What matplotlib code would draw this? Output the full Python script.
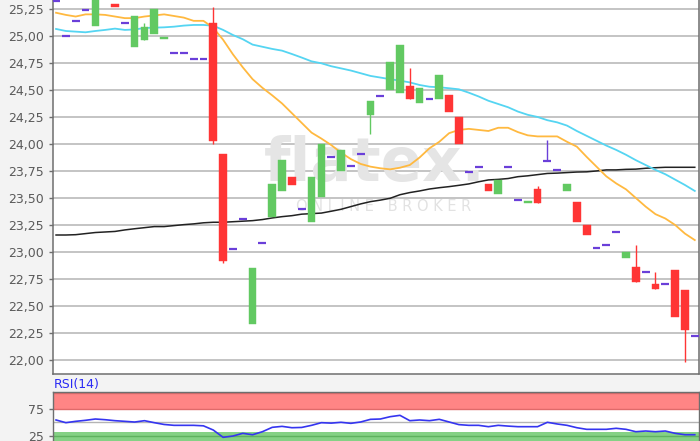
import matplotlib
matplotlib.use("Agg")
import matplotlib.pyplot as plt
import numpy as np
from matplotlib.ticker import FuncFormatter, FixedLocator

# ---------------- data ----------------
opens = [25.32, 25.00, 25.14, 25.24, 25.09, 25.38, 25.30, 25.12, 24.895, 24.96,
         25.02, 24.97, 24.845, 24.845, 24.79, 24.79, 25.12, 23.91, 23.03, 23.305,
         22.33, 23.086, 23.32, 23.56, 23.69, 23.40, 23.275, 23.51, 23.88, 23.75,
         23.80, 23.905, 24.27, 24.445, 24.50, 24.475, 24.54, 24.38, 24.42, 24.42,
         24.45, 24.25, 23.74, 23.79, 23.63, 23.54, 23.79, 23.485, 23.45, 23.58,
         23.84, 23.756, 23.565, 23.46, 23.25, 23.04, 23.065, 23.185, 22.94, 22.86,
         22.81, 22.70, 22.70, 22.83, 22.645, 22.22]
highs = [25.32, 25.00, 25.14, 25.24, 25.40, 25.38, 25.30, 25.12, 25.185, 25.12,
         25.25, 24.99, 24.845, 24.845, 24.79, 24.79, 25.27, 23.91, 23.03, 23.305,
         22.85, 23.086, 23.63, 23.85, 23.69, 23.40, 23.69, 24.00, 23.88, 23.94,
         23.80, 23.905, 24.40, 24.445, 24.76, 24.92, 24.70, 24.52, 24.42, 24.64,
         24.45, 24.25, 23.74, 23.79, 23.63, 23.667, 23.79, 23.485, 23.47, 23.61,
         24.04, 23.756, 23.633, 23.46, 23.25, 23.04, 23.065, 23.185, 23.00, 23.065,
         22.81, 22.815, 22.70, 22.83, 22.645, 22.22]
lows = [25.32, 25.00, 25.14, 25.24, 25.09, 25.38, 25.27, 25.12, 24.895, 24.96,
        25.02, 24.97, 24.845, 24.845, 24.79, 24.79, 24.00, 22.90, 23.03, 23.305,
        22.33, 23.086, 23.32, 23.56, 23.62, 23.40, 23.275, 23.51, 23.88, 23.75,
        23.80, 23.905, 24.09, 24.445, 24.50, 24.475, 24.42, 24.38, 24.42, 24.42,
        24.30, 24.00, 23.74, 23.79, 23.565, 23.54, 23.79, 23.485, 23.45, 23.455,
        23.84, 23.756, 23.565, 23.275, 23.155, 23.04, 23.065, 23.185, 22.94, 22.72,
        22.81, 22.66, 22.70, 22.40, 21.98, 22.22]
closes = [25.32, 25.00, 25.14, 25.24, 25.40, 25.38, 25.27, 25.12, 25.185, 25.08,
          25.25, 24.99, 24.845, 24.845, 24.79, 24.79, 24.03, 22.92, 23.03, 23.305,
          22.85, 23.086, 23.63, 23.85, 23.62, 23.40, 23.69, 24.00, 23.88, 23.94,
          23.80, 23.905, 24.40, 24.445, 24.76, 24.92, 24.42, 24.52, 24.42, 24.64,
          24.30, 24.00, 23.74, 23.79, 23.565, 23.667, 23.79, 23.485, 23.47, 23.455,
          23.84, 23.756, 23.633, 23.275, 23.155, 23.04, 23.065, 23.185, 23.00, 22.72,
          22.81, 22.66, 22.70, 22.40, 22.28, 22.22]

ma_orange = [25.215, 25.195, 25.18, 25.20, 25.20, 25.195, 25.18, 25.165, 25.165, 25.18,
             25.19, 25.20, 25.185, 25.17, 25.14, 25.14, 25.075, 24.965, 24.83, 24.71,
             24.60, 24.52, 24.45, 24.375, 24.285, 24.195, 24.105, 24.05, 23.99, 23.92,
             23.86, 23.815, 23.79, 23.775, 23.765, 23.78, 23.805, 23.875, 23.96, 24.02,
             24.10, 24.13, 24.14, 24.13, 24.12, 24.15, 24.15, 24.11, 24.08, 24.07,
             24.07, 24.07, 24.02, 23.975, 23.88, 23.79, 23.70, 23.635, 23.58, 23.50,
             23.42, 23.35, 23.31, 23.25, 23.17, 23.11]
ma_cyan = [25.065, 25.046, 25.04, 25.034, 25.046, 25.056, 25.068, 25.056, 25.06, 25.074,
           25.077, 25.08, 25.086, 25.096, 25.102, 25.102, 25.095, 25.056, 25.009, 24.97,
           24.92, 24.90, 24.88, 24.864, 24.833, 24.80, 24.765, 24.747, 24.72, 24.70,
           24.68, 24.655, 24.63, 24.615, 24.60, 24.586, 24.57, 24.546, 24.53, 24.525,
           24.516, 24.506, 24.475, 24.44, 24.40, 24.37, 24.34, 24.30, 24.27, 24.25,
           24.22, 24.20, 24.17, 24.12, 24.075, 24.03, 23.985, 23.945, 23.90, 23.85,
           23.805, 23.76, 23.72, 23.67, 23.62, 23.565]
ma_black = [23.157, 23.157, 23.16, 23.17, 23.18, 23.185, 23.19, 23.204, 23.215, 23.225,
            23.235, 23.235, 23.244, 23.253, 23.26, 23.27, 23.275, 23.275, 23.28, 23.285,
            23.29, 23.30, 23.315, 23.327, 23.336, 23.35, 23.355, 23.36, 23.377, 23.395,
            23.42, 23.445, 23.466, 23.48, 23.497, 23.53, 23.55, 23.565, 23.583, 23.595,
            23.605, 23.617, 23.63, 23.65, 23.667, 23.672, 23.68, 23.697, 23.705, 23.716,
            23.727, 23.73, 23.735, 23.74, 23.742, 23.75, 23.76, 23.76, 23.765, 23.767,
            23.775, 23.78, 23.784, 23.784, 23.784, 23.784]
rsi = [54.3, 49.3, 51.8, 53.7, 56.1, 54.8, 53.0, 51.8, 50.5, 53.0,
       49.3, 46.0, 44.4, 44.4, 44.4, 43.5, 35.7, 22.2, 24.6, 29.6,
       27.0, 32.6, 40.7, 42.5, 40.0, 40.5, 44.4, 49.3, 48.5, 50.0,
       48.1, 50.6, 55.5, 56.1, 60.4, 62.9, 53.0, 54.3, 53.0, 55.5,
       50.6, 45.7, 44.4, 44.4, 41.9, 44.4, 43.0, 41.9, 41.9, 41.9,
       50.0, 46.9, 44.4, 40.0, 37.0, 37.0, 37.0, 38.9, 37.0, 32.6,
       33.9, 32.6, 33.9, 29.6, 27.0, 27.0]
price_ticks = [22.00, 22.25, 22.50, 22.75, 23.00, 23.25, 23.50, 23.75, 24.00,
               24.25, 24.50, 24.75, 25.00, 25.25]
rsi_ticks = [25, 75]

# ---------------- styling ----------------
W, H = 700, 441
UP = "#62c962"
DOWN = "#ff3535"
DOJI = "#6a3fd9"
BG = "#f3f3f3"
GRID = "#b4b4b4"
SPINE = "#6e6e6e"
TXT = "#5a5a5a"

fig = plt.figure(figsize=(7.0, 4.41), dpi=100, facecolor=BG)

def px_rect(left, top, right, bottom):
    return [left / W, 1 - bottom / H, (right - left) / W, (bottom - top) / H]

ax = fig.add_axes(px_rect(52.5, 0, 699, 374))
ax2 = fig.add_axes(px_rect(52.5, 392, 699, 441))

n = len(opens)
x = np.arange(n)

ax.set_facecolor("white")
ax.set_xlim(-0.36, 65.43)
ax.set_ylim(21.87, 25.333)
ax.yaxis.set_major_locator(FixedLocator(price_ticks))
ax.yaxis.set_major_formatter(FuncFormatter(lambda v, p: f"{v:.2f}".replace(".", ",")))
ax.grid(axis="y", color=GRID, linewidth=1.1, zorder=0)
ax.set_axisbelow(True)
ax.set_xticks([])
ax.tick_params(axis="y", colors=SPINE, labelcolor=TXT, labelsize=9, length=3, width=1, pad=3)
for s in ["left", "bottom", "right"]:
    ax.spines[s].set_color(SPINE)
    ax.spines[s].set_linewidth(1.1)
ax.spines["top"].set_visible(False)

# watermark (inside the axes, above grid, below marks)
ax.text(375 / W, 1 - 181 / H, "flatex.", ha="center", va="baseline",
        fontsize=44, fontweight="bold", color="#e5e5e5", family="DejaVu Sans",
        transform=fig.transFigure, zorder=1)
ax.text(384 / W, 1 - 211 / H, "O N L I N E   B R O K E R", ha="center", va="baseline",
        fontsize=10.5, color="#e2e2e2", family="DejaVu Sans",
        transform=fig.transFigure, zorder=1)

# moving averages
ax.plot(x, ma_black, color="#222222", lw=1.1, zorder=3)
ax.plot(x, ma_cyan, color="#55d5f2", lw=1.3, zorder=3)
ax.plot(x, ma_orange, color="#ffb940", lw=1.3, zorder=3)

# candles
bw = 0.78
for i in range(n):
    o, h, l, c = opens[i], highs[i], lows[i], closes[i]
    if c > o:
        col = UP
    elif c < o:
        col = DOWN
    else:
        col = DOJI
    if h > max(o, c) or l < min(o, c):
        ax.vlines(x[i], l, h, color=col, lw=1.0, zorder=4)
    if c != o:
        ax.bar(x[i], abs(c - o), bottom=min(o, c), width=bw, color=col,
               edgecolor=col, linewidth=0.3, zorder=5)
    else:
        ax.hlines(o, x[i] - 0.4, x[i] + 0.4, color=DOJI, lw=1.6, zorder=5)

# ---------------- RSI panel ----------------
ax2.set_facecolor("white")
ax2.set_xlim(-0.36, 65.43)
ax2.set_ylim(15.4, 106.1)
ax2.axhspan(75, 106.1, color="#ff8585", zorder=1, lw=0)
ax2.axhline(75, color="#e06a6a", lw=1.0, zorder=2)
ax2.axhline(104.5, color="#e06a6a", lw=1.0, zorder=2)
ax2.axhspan(15.4, 32.5, color="#85d185", zorder=1, lw=0)
ax2.axhline(25, color="#5fb25f", lw=1.0, zorder=2)
ax2.axhline(50, color=GRID, lw=1.0, zorder=2)
ax2.plot(x, rsi, color="#3535f0", lw=1.2, zorder=4)
ax2.set_yticks(rsi_ticks)
ax2.set_yticklabels([str(t) for t in rsi_ticks])
ax2.set_xticks([])
ax2.tick_params(axis="y", colors=SPINE, labelcolor=TXT, labelsize=9, length=3, width=1, pad=3)
for s in ["left", "right", "top"]:
    ax2.spines[s].set_color(SPINE)
    ax2.spines[s].set_linewidth(1.0)
ax2.spines["bottom"].set_visible(False)
ax2.text(0.002, 1.03, "RSI(14)", transform=ax2.transAxes, ha="left", va="bottom",
         fontsize=9, color="#2a2af5")

fig.savefig("out.png", dpi=100, facecolor=BG)
